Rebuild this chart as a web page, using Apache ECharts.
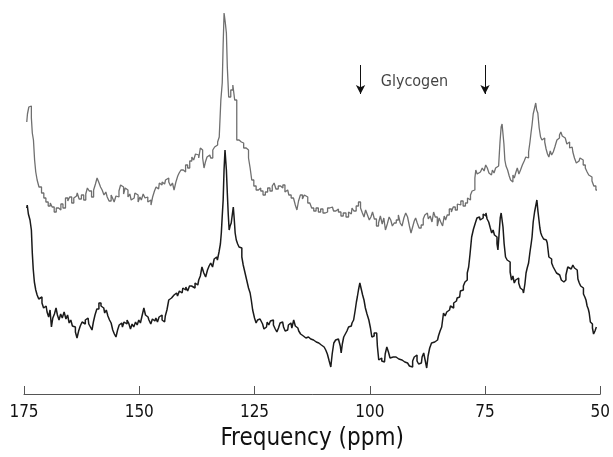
<!DOCTYPE html>
<html>
<head>
<meta charset="utf-8">
<script src="https://cdn.jsdelivr.net/npm/echarts@6/dist/echarts.min.js"></script>
<style>
html,body{margin:0;padding:0;background:#fff;}
#chart{width:613px;height:457px;}
</style>
</head>
<body>
<div id="chart"></div>
<script>
// Upper (grey) spectrum: [ppm, intensity (arbitrary units)]
var greySpectrum = [
[174.4,272],[174.1,280],[173.8,287],[173.5,288],[173.3,276],[173.1,261],[172.8,254],[172.6,234],[172.3,222],[172.0,214],
[171.5,207],[170.9,201],[170.5,196],[170.0,192],[169.5,188],[169.1,191],[168.7,187],[168.2,182],[167.8,186],[167.2,184],
[166.8,190],[166.3,186],[165.7,196],[165.3,193],[164.9,197],[164.4,191],[164.0,196],[163.6,198],[163.3,201],[162.8,195],
[162.3,199],[161.8,194],[161.4,200],[161.1,206],[160.6,203],[160.1,197],[159.7,204],[159.3,210],[159.0,216],[158.6,212],
[158.2,207],[157.9,204],[157.4,199],[157.1,202],[156.8,197],[156.3,193],[155.9,199],[155.7,196],[155.2,192],[154.9,198],
[154.6,197],[154.2,203],[153.9,209],[153.6,207],[153.2,200],[152.9,206],[152.7,204],[152.2,197],[151.9,200],[151.6,194],
[151.1,196],[150.8,201],[150.5,199],[150.0,192],[149.7,197],[149.4,194],[148.9,200],[148.6,196],[148.4,197],[147.9,192],
[147.6,194],[147.3,189],[146.9,197],[146.5,203],[146.2,207],[145.8,205],[145.5,211],[145.2,209],[144.9,212],[144.5,210],
[144.1,214],[143.8,216],[143.4,212],[143.0,208],[142.6,211],[142.3,204],[141.8,212],[141.5,218],[141.2,221],[140.7,224],
[140.2,222],[139.7,229],[139.3,226],[138.8,233],[138.4,237],[138.0,234],[137.6,240],[137.3,239],[136.9,236],[136.6,246],
[136.4,244],[136.1,236],[135.8,226],[135.5,232],[135.1,237],[134.7,239],[134.3,236],[133.8,244],[133.5,247],[133.2,249],
[132.8,252],[132.5,257],[132.1,294],[131.9,311],[131.7,350],[131.5,381],[131.2,372],[131.0,361],[130.8,327],[130.4,297],
[129.9,304],[129.5,309],[129.1,294],[128.6,254],[128.1,252],[127.6,251],[127.1,246],[126.5,244],[126.1,236],[125.8,226],
[125.4,214],[124.9,208],[124.4,204],[123.9,206],[123.4,203],[122.9,199],[122.4,202],[121.9,206],[121.4,203],[120.9,208],
[120.6,211],[120.1,205],[119.6,208],[119.1,206],[118.6,209],[118.2,202],[117.8,204],[117.3,199],[116.8,196],[116.3,194],
[116.0,189],[115.6,184],[115.3,193],[114.8,199],[114.4,195],[114.0,199],[113.7,197],[113.2,191],[112.8,189],[112.4,186],
[111.9,183],[111.4,186],[110.9,182],[110.4,185],[109.9,181],[109.4,182],[108.9,186],[108.5,184],[108.1,187],[107.6,183],
[107.1,185],[106.5,182],[106.0,178],[105.5,181],[104.8,177],[104.4,182],[104.0,180],[103.7,186],[103.2,183],[102.7,188],
[102.2,192],[101.8,186],[101.4,181],[101.1,177],[100.7,184],[100.3,179],[99.9,174],[99.6,177],[99.2,182],[98.8,175],
[98.3,168],[97.9,171],[97.5,178],[97.1,170],[96.8,176],[96.4,164],[96.0,170],[95.6,177],[95.3,174],[94.9,168],
[94.5,171],[94.0,174],[93.6,179],[93.2,171],[92.8,168],[92.4,176],[92.0,181],[91.6,177],[91.2,168],[90.9,161],
[90.5,167],[90.2,173],[89.9,176],[89.5,171],[89.1,166],[88.6,169],[88.2,175],[87.9,179],[87.5,181],[87.1,175],
[86.7,178],[86.3,172],[86.0,182],[85.6,177],[85.1,168],[84.8,176],[84.4,172],[84.0,168],[83.7,178],[83.4,174],
[83.0,179],[82.5,185],[82.1,182],[81.7,187],[81.2,184],[80.8,190],[80.5,189],[80.0,193],[79.5,188],[79.0,191],
[78.6,196],[78.3,194],[78.0,199],[77.6,203],[77.3,204],[77.1,216],[76.9,224],[76.5,220],[76.2,222],[75.8,221],
[75.4,226],[75.0,223],[74.7,229],[74.3,226],[74.0,221],[73.6,219],[73.2,224],[72.9,221],[72.5,226],[72.2,228],
[71.9,229],[71.6,252],[71.4,267],[71.2,270],[71.0,269],[70.8,250],[70.6,234],[70.3,228],[69.9,224],[69.6,218],
[69.3,214],[69.1,212],[68.8,219],[68.5,216],[68.2,221],[67.8,226],[67.5,220],[67.1,224],[66.7,229],[66.3,233],
[66.0,237],[65.7,236],[65.4,242],[65.1,252],[64.9,262],[64.7,269],[64.4,280],[64.1,286],[63.9,291],[63.7,284],
[63.4,281],[63.1,266],[62.8,257],[62.5,254],[62.2,256],[61.9,252],[61.6,245],[61.3,240],[61.0,237],[60.7,243],
[60.4,239],[60.0,242],[59.7,247],[59.5,251],[59.3,254],[59.0,256],[58.7,259],[58.4,262],[58.1,258],[57.8,256],
[57.4,254],[57.1,250],[56.8,252],[56.5,246],[56.1,247],[55.8,242],[55.4,236],[55.0,231],[54.6,233],[54.2,236],
[53.9,234],[53.5,229],[53.0,226],[52.7,222],[52.3,219],[52.0,217],[51.6,213],[51.2,208],[50.7,204]
];

// Lower (black) spectrum: [ppm, intensity (arbitrary units)]
var blackSpectrum = [
[174.4,186],[174.2,189],[173.9,180],[173.5,174],[173.3,164],[173.1,141],[172.9,125],[172.6,112],[172.3,104],[172.0,99],
[171.6,95],[171.3,97],[170.9,91],[170.6,86],[170.2,88],[169.8,82],[169.5,77],[169.2,84],[168.9,67],[168.6,76],
[168.2,80],[167.9,86],[167.6,79],[167.2,74],[166.9,80],[166.5,76],[166.1,82],[165.7,75],[165.4,79],[165.0,71],
[164.7,74],[164.3,68],[164.0,67],[163.7,62],[163.3,56],[163.0,63],[162.6,68],[162.2,72],[161.9,70],[161.5,74],
[161.1,76],[160.8,70],[160.4,67],[160.1,64],[159.8,72],[159.4,79],[159.0,85],[158.5,91],[158.1,88],[157.7,86],
[157.3,81],[157.0,84],[156.6,78],[156.3,74],[155.9,71],[155.6,64],[155.2,60],[154.9,57],[154.5,64],[154.2,69],
[153.8,71],[153.5,67],[153.1,72],[152.8,70],[152.5,74],[152.1,71],[151.7,65],[151.4,70],[151.0,67],[150.6,72],
[150.3,69],[149.9,74],[149.6,71],[149.2,78],[148.8,86],[148.5,79],[148.1,77],[147.7,74],[147.3,70],[147.0,75],
[146.6,73],[146.2,76],[145.9,72],[145.5,77],[145.2,79],[144.9,74],[144.5,72],[144.2,78],[143.8,84],[143.4,94],
[143.0,96],[142.6,94],[142.3,99],[141.9,101],[141.5,98],[141.1,103],[140.7,101],[140.4,106],[140.1,104],[139.7,107],
[139.3,103],[138.9,108],[138.4,109],[138.1,106],[137.7,111],[137.3,109],[136.9,114],[136.6,118],[136.2,127],[135.8,121],
[135.4,117],[135.0,124],[134.7,128],[134.3,131],[133.9,127],[133.6,135],[133.2,137],[132.9,134],[132.5,142],[132.3,150],
[132.1,161],[131.9,178],[131.7,194],[131.5,225],[131.3,244],[131.2,244],[131.0,224],[130.8,201],[130.6,180],[130.4,164],
[130.2,168],[129.9,171],[129.7,180],[129.5,187],[129.3,175],[129.1,161],[128.8,154],[128.5,150],[128.2,147],[127.9,146],
[127.6,137],[127.3,129],[126.9,122],[126.5,114],[126.1,106],[125.8,101],[125.6,94],[125.2,84],[124.8,76],[124.5,71],
[124.2,74],[123.8,75],[123.4,77],[123.1,70],[122.8,65],[122.4,67],[122.1,72],[121.7,69],[121.4,73],[121.1,74],
[120.7,69],[120.3,65],[120.0,62],[119.6,66],[119.3,71],[118.9,72],[118.5,67],[118.2,63],[117.8,64],[117.5,69],
[117.1,71],[116.7,66],[116.3,74],[116.0,68],[115.6,66],[115.2,63],[114.8,60],[114.4,58],[114.0,59],[113.7,56],
[113.3,57],[112.8,55],[112.4,54],[112.0,55],[111.6,52],[111.2,54],[110.9,51],[110.5,49],[110.1,47],[109.7,46],
[109.4,44],[109.0,40],[108.6,33],[108.3,27],[108.0,40],[107.6,51],[107.2,54],[106.8,55],[106.5,56],[106.3,48],
[106.1,41],[105.8,50],[105.5,57],[105.1,60],[104.8,63],[104.4,67],[104.0,68],[103.7,71],[103.3,74],[103.0,84],
[102.8,92],[102.6,97],[102.3,104],[102.0,111],[101.7,105],[101.4,99],[101.1,94],[100.8,86],[100.4,80],[100.0,74],
[99.7,66],[99.4,57],[99.2,58],[98.9,61],[98.5,61],[98.2,48],[97.9,34],[97.6,36],[97.2,33],[96.8,32],
[96.5,40],[96.1,47],[95.8,42],[95.4,36],[95.1,37],[94.7,39],[94.3,37],[93.9,35],[93.5,37],[93.2,34],
[92.8,33],[92.4,32],[92.0,31],[91.6,29],[91.2,28],[90.9,27],[90.5,33],[90.2,37],[89.9,39],[89.6,33],
[89.2,30],[88.8,31],[88.5,37],[88.1,41],[87.8,33],[87.5,26],[87.2,38],[86.8,46],[86.4,51],[86.1,52],
[85.7,53],[85.3,54],[84.9,58],[84.6,63],[84.2,67],[83.8,81],[83.5,78],[83.1,82],[82.7,84],[82.3,88],
[82.0,86],[81.6,91],[81.2,93],[80.9,96],[80.5,97],[80.2,103],[79.9,104],[79.5,108],[79.2,112],[79.0,114],
[78.7,121],[78.4,127],[78.1,140],[77.7,157],[77.3,165],[76.9,171],[76.6,176],[76.2,177],[75.9,174],[75.6,176],
[75.2,180],[74.9,178],[74.7,181],[74.4,175],[74.0,172],[73.7,166],[73.4,161],[73.1,164],[72.8,159],[72.5,157],
[72.3,150],[72.1,144],[71.8,160],[71.6,176],[71.4,181],[71.2,174],[71.0,167],[70.7,150],[70.4,137],[70.0,134],
[69.7,132],[69.4,122],[69.1,114],[68.8,118],[68.5,111],[68.2,114],[67.9,116],[67.5,111],[67.2,106],[66.8,104],
[66.5,101],[66.2,110],[66.0,121],[65.7,126],[65.4,131],[65.1,142],[64.9,150],[64.7,157],[64.4,172],[64.1,182],
[63.9,188],[63.6,194],[63.4,182],[63.2,174],[63.0,166],[62.8,161],[62.5,158],[62.1,155],[61.7,154],[61.3,151],
[61.0,137],[60.7,135],[60.4,131],[60.0,127],[59.7,124],[59.3,121],[59.0,119],[58.6,117],[58.3,114],[57.9,112],
[57.6,114],[57.3,119],[56.8,127],[56.5,125],[56.1,127],[55.8,129],[55.4,126],[55.0,124],[54.7,115],[54.4,111],
[54.1,108],[53.8,106],[53.5,100],[53.2,97],[53.0,94],[52.7,88],[52.5,85],[52.3,81],[52.0,72],[51.8,70],
[51.6,66],[51.3,60],[51.0,63],[50.7,67]
];

// Glycogen annotation: arrow positions (ppm) and label
var glycogenArrowsPpm = [102, 75];
var arrowTop = 329, arrowBottom = 300;
var glycogenLabel = { ppm: 90.3, level: 312, text: 'Glycogen' };

var xTicks = { min: 50, max: 175, interval: 25 };

var FONT = '"DejaVu Sans Condensed", "Liberation Sans", sans-serif';

var chart = echarts.init(document.getElementById('chart'), null, { renderer: 'canvas' });

var arrowLines = glycogenArrowsPpm.map(function (p) {
  return [{ coord: [p, arrowTop] }, { coord: [p, arrowBottom] }];
});

chart.setOption({
  animation: false,
  backgroundColor: '#ffffff',
  grid: { left: 24, right: 12, top: 0, bottom: 63, containLabel: false },
  xAxis: {
    type: 'value',
    inverse: true,
    min: xTicks.min,
    max: xTicks.max,
    interval: xTicks.interval,
    name: 'Frequency (ppm)',
    nameLocation: 'middle',
    nameGap: 33,
    nameTextStyle: { fontFamily: FONT, fontSize: 24, color: '#111' },
    axisLine: { show: true, lineStyle: { color: '#555', width: 1 } },
    axisTick: { show: true, inside: true, length: 8, lineStyle: { color: '#555', width: 1 } },
    axisLabel: { fontFamily: FONT, fontSize: 17, color: '#111', margin: 10 },
    splitLine: { show: false }
  },
  yAxis: { type: 'value', min: 0, max: 394, show: false, splitLine: { show: false } },
  series: [
    {
      name: 'upper',
      type: 'line',
      data: greySpectrum,
      step: 'middle',
      showSymbol: false,
      symbol: 'none',
      lineStyle: { color: '#6f6f6f', width: 1.3 },
      z: 2,
      markLine: {
        silent: true,
        symbol: ['none', 'arrow'],
        symbolSize: [7, 9],
        label: { show: false },
        lineStyle: { color: '#111', width: 1, type: 'solid' },
        data: arrowLines
      }
    },
    {
      name: 'lower',
      type: 'line',
      data: blackSpectrum,
      step: 'middle',
      showSymbol: false,
      symbol: 'none',
      lineStyle: { color: '#1a1a1a', width: 1.5 },
      z: 3
    },
    {
      name: 'label',
      type: 'scatter',
      data: [[glycogenLabel.ppm, glycogenLabel.level]],
      symbolSize: 1,
      itemStyle: { color: 'rgba(0,0,0,0)' },
      silent: true,
      label: {
        show: true,
        position: 'inside',
        formatter: glycogenLabel.text,
        fontFamily: FONT,
        fontSize: 16,
        color: '#111'
      }
    }
  ]
});
</script>
</body>
</html>
